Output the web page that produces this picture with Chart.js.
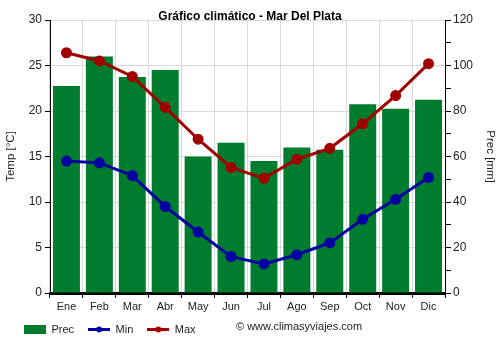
<!DOCTYPE html>
<html>
<head>
<meta charset="utf-8">
<script src="https://cdn.jsdelivr.net/npm/chart.js@4/dist/chart.umd.min.js"></script>
<style>
    html, body { margin: 0; padding: 0; background: #fff; }
    #wrap { width: 500px; height: 350px; }
</style>
</head>
<body>
<div id="wrap"><canvas id="climate-chart" width="500" height="350"></canvas></div>
<script>
// Chart data
const months = ["Ene", "Feb", "Mar", "Abr", "May", "Jun", "Jul", "Ago", "Sep", "Oct", "Nov", "Dic"];
const precMm = [91, 104, 95, 98, 60, 66, 58, 64, 63, 83, 81, 85];
const minTemp = [14.5, 14.3, 12.9, 9.5, 6.7, 4.0, 3.2, 4.2, 5.5, 8.1, 10.3, 12.7];
const maxTemp = [26.4, 25.5, 23.8, 20.4, 16.9, 13.8, 12.6, 14.7, 15.9, 18.6, 21.7, 25.2];
const tempTicks = [0, 5, 10, 15, 20, 25, 30];
const precTicks = [0, 20, 40, 60, 80, 100, 120];

const FONT = "'Liberation Sans', Arial, sans-serif";
const GREEN = "#007c2f";
const BLUE = "#0000a0";
const RED = "#a00000";

// Small legend swatches (line with a dot / filled box)
function lineSwatch(color) {
    const c = document.createElement("canvas");
    c.width = 22; c.height = 9;
    const g = c.getContext("2d");
    g.strokeStyle = color;
    g.lineWidth = 3;
    g.beginPath();
    g.moveTo(0, 4.5);
    g.lineTo(22, 4.5);
    g.stroke();
    g.fillStyle = color;
    g.beginPath();
    g.arc(11, 4.5, 3, 0, Math.PI * 2);
    g.fill();
    return c;
}

function boxSwatch(color) {
    const c = document.createElement("canvas");
    c.width = 22; c.height = 9;
    const g = c.getContext("2d");
    g.fillStyle = color;
    g.fillRect(0, 0, 22, 9);
    return c;
}

// Nudge the legend to where the original sits
const legendShift = {
    id: "legendShift",
    afterLayout(chart) {
        if (chart.legend) {
            chart.legend.left += 10;
            chart.legend.top -= 5;
        }
    }
};

// Title and copyright text
const extraText = {
    id: "extraText",
    afterDraw(chart) {
        const ctx = chart.ctx;
        ctx.save();
        ctx.fillStyle = "#000";
        ctx.font = "bold 12px " + FONT;
        ctx.textAlign = "center";
        ctx.textBaseline = "middle";
        ctx.fillText("Gráfico climático - Mar Del Plata", 250, 17);
        ctx.font = "11px " + FONT;
        ctx.textAlign = "left";
        ctx.fillStyle = "#222";
        ctx.fillText("© www.climasyviajes.com", 236, 327);
        ctx.restore();
    }
};

const ctx = document.getElementById("climate-chart");
const chart = new Chart(ctx, {
    type: "bar",
    data: {
        labels: months,
        datasets: [
            {
                type: "line",
                label: "Min",
                data: minTemp,
                yAxisID: "yTemp",
                borderColor: BLUE,
                backgroundColor: BLUE,
                borderWidth: 3,
                pointRadius: 4,
                pointHoverRadius: 4,
                tension: 0,
                order: 1
            },
            {
                type: "line",
                label: "Max",
                data: maxTemp,
                yAxisID: "yTemp",
                borderColor: RED,
                backgroundColor: RED,
                borderWidth: 3,
                pointRadius: 4,
                pointHoverRadius: 4,
                tension: 0,
                order: 0
            },
            {
                label: "Prec",
                data: precMm,
                yAxisID: "yPrec",
                backgroundColor: GREEN,
                borderWidth: 0,
                barPercentage: 0.82,
                categoryPercentage: 1.0,
                order: 2
            }
        ]
    },
    options: {
        responsive: false,
        animation: false,
        layout: { padding: { top: 20, left: 0, right: 0, bottom: 0 } },
        plugins: {
            title: { display: false },
            tooltip: { enabled: false },
            legend: {
                position: "bottom",
                align: "start",
                labels: {
                    font: { family: FONT, size: 11 },
                    color: "#222",
                    usePointStyle: true,
                    pointStyleWidth: 22,
                    boxHeight: 9,
                    padding: 14,
                    generateLabels: function(chart) {
                        const order = [2, 0, 1];
                        return order.map(i => {
                            const ds = chart.data.datasets[i];
                            return {
                                text: ds.label,
                                pointStyle: i === 2 ? boxSwatch(GREEN) : lineSwatch(ds.borderColor),
                                fillStyle: ds.backgroundColor,
                                strokeStyle: ds.backgroundColor,
                                lineWidth: 0,
                                hidden: false,
                                datasetIndex: i,
                                fontColor: "#222"
                            };
                        });
                    }
                }
            }
        },
        scales: {
            x: {
                offset: true,
                grid: {
                    offset: true,
                    color: "#d9d9d9",
                    tickColor: "#000",
                    tickLength: 5
                },
                border: { color: "#000", width: 3 },
                ticks: {
                    font: { family: FONT, size: 11 },
                    color: "#222",
                    padding: 2
                },
                afterFit: s => { s.height = 22; }
            },
            yTemp: {
                position: "left",
                min: 0,
                max: 30,
                afterBuildTicks: s => { s.ticks = tempTicks.map(v => ({ value: v })); },
                grid: {
                    color: "#d9d9d9",
                    tickColor: "#000",
                    tickLength: 5
                },
                border: { color: "#000", width: 1 },
                ticks: {
                    font: { family: FONT, size: 12 },
                    color: "#222",
                    padding: 3
                },
                title: {
                    display: true,
                    text: "Temp [°C]",
                    font: { family: FONT, size: 11.5 },
                    color: "#222",
                    padding: { top: 4, bottom: 0 }
                },
                afterFit: s => { s.width = 50; }
            },
            yPrec: {
                position: "right",
                min: 0,
                max: 120,
                afterBuildTicks: s => {
                    const t = [];
                    for (let v = 0; v <= 120; v += 10) t.push({ value: v });
                    s.ticks = t;
                },
                grid: {
                    drawOnChartArea: false,
                    color: "#000",
                    tickColor: "#000",
                    tickLength: 6
                },
                border: { color: "#000", width: 1 },
                ticks: {
                    font: { family: FONT, size: 12 },
                    color: "#222",
                    padding: 2,
                    autoSkip: false,
                    callback: v => precTicks.includes(v) ? v : ""
                },
                title: {
                    display: true,
                    text: "Prec [mm]",
                    font: { family: FONT, size: 11.5 },
                    color: "#222",
                    padding: { top: 3, bottom: 0 }
                },
                afterFit: s => { s.width = 55; }
            }
        }
    },
    plugins: [legendShift, extraText]
});
</script>
</body>
</html>
